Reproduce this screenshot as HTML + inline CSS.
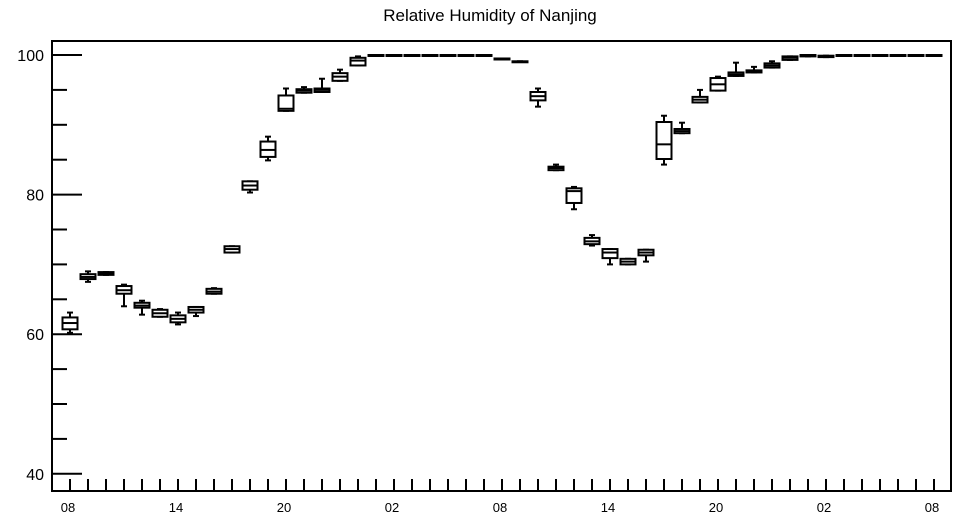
<!DOCTYPE html>
<html><head><meta charset="utf-8"><style>
body{margin:0;background:#fff;}
svg{display:block;font-family:"Liberation Sans",Arial,sans-serif;}
</style></head><body>
<svg id="chart" width="957" height="520" viewBox="0 0 957 520">
<text x="490" y="21" text-anchor="middle" font-size="17">Relative Humidity of Nanjing</text>
<rect x="52" y="41" width="899" height="450" fill="none" stroke="#000" stroke-width="2"/>
<g id="axes"></g>
<g id="boxes"></g>
</svg>
<script>
const hours = ["08","09","10","11","12","13","14","15","16","17","18","19","20","21","22","23","00","01","02","03","04","05","06","07","08","09","10","11","12","13","14","15","16","17","18","19","20","21","22","23","00","01","02","03","04","05","06","07","08"];
const whiskerLow = [60.2,67.5,68.5,64.0,62.8,62.5,61.4,62.6,65.8,71.7,80.3,84.9,92.0,94.6,94.7,96.3,98.5,99.9,99.9,99.9,99.9,99.9,99.9,99.9,99.4,99.0,92.6,83.5,77.9,72.7,70.0,70.0,70.4,84.3,88.8,93.2,94.9,97.0,97.5,98.2,99.3,99.8,99.7,99.9,99.9,99.9,99.9,99.9,99.9];
const q1 = [60.7,67.9,68.5,65.8,63.8,62.5,61.7,63.1,65.8,71.7,80.7,85.4,92.0,94.6,94.7,96.3,98.5,99.9,99.9,99.9,99.9,99.9,99.9,99.9,99.4,99.0,93.5,83.5,78.8,72.9,70.9,70.0,71.3,85.1,88.8,93.2,94.9,97.0,97.5,98.2,99.3,99.8,99.7,99.9,99.9,99.9,99.9,99.9,99.9];
const medians = [61.6,68.2,68.7,66.3,64.1,63.0,62.2,63.5,66.1,72.2,81.3,86.4,92.3,94.9,95.0,96.9,99.2,100,100,100,100,100,100,99.95,99.4,99.0,94.1,83.8,80.5,73.3,71.7,70.4,71.7,87.2,89.1,93.6,95.8,97.2,97.7,98.5,99.6,99.9,99.8,100,100,100,100,100,100];
const q3 = [62.4,68.6,68.9,66.9,64.5,63.5,62.7,63.9,66.5,72.6,81.9,87.6,94.2,95.1,95.2,97.4,99.6,100,100,100,100,100,100,100,99.5,99.1,94.7,84.0,80.9,73.8,72.2,70.8,72.1,90.4,89.4,94.0,96.7,97.5,97.8,98.8,99.8,100,99.9,100,100,100,100,100,100];
const whiskerHigh = [63.1,69.0,68.9,67.1,64.8,63.6,63.1,63.9,66.6,72.6,81.9,88.3,95.2,95.4,96.6,97.9,99.8,100,100,100,100,100,100,100,99.5,99.1,95.2,84.3,81.1,74.2,72.2,70.8,72.1,91.3,90.3,95.0,96.9,98.9,98.3,99.1,99.8,100,99.9,100,100,100,100,100,100];
const yTicks = [40,60,80,100];
const xLabels = ["08","14","20","02","08","14","20","02","08"];

const NS="http://www.w3.org/2000/svg";
const X0=70, DX=18, Y100=55, PXU=6.98;
function xPos(i){return X0+DX*i;}
function yPos(v){return Y100+(100-v)*PXU;}
function mk(tag,attrs,parent){const e=document.createElementNS(NS,tag);for(const k in attrs)e.setAttribute(k,attrs[k]);parent.appendChild(e);return e;}
const axes=document.getElementById('axes');
for(let v=40;v<=100;v+=5){
  const major=yTicks.includes(v);
  const t=mk('line',{x1:52,x2:major?82:67,y1:yPos(v),y2:yPos(v),stroke:'#000','stroke-width':2},axes);
  
  
}
yTicks.forEach(v=>{
  const t=mk('text',{x:44,y:yPos(v)+6,'text-anchor':'end','font-size':16},axes);
  t.textContent=v;
  
  
});
hours.forEach((h,i)=>{
  const t=mk('line',{x1:xPos(i),x2:xPos(i),y1:491,y2:479,stroke:'#000','stroke-width':2},axes);
  
  
});
xLabels.forEach((l,k)=>{
  const t=mk('text',{x:xPos(k*6)-2,y:512,'text-anchor':'middle','font-size':13},axes);
  t.textContent=l;
  
  
});
const boxes=document.getElementById('boxes');
hours.forEach((h,i)=>{
  const g=mk('g',{},boxes);
  
  
  const x=xPos(i);
  const st={stroke:'#000','stroke-width':2,fill:'none'};
  mk('line',Object.assign({x1:x,x2:x,y1:yPos(whiskerHigh[i]),y2:yPos(q3[i])},st),g);
  mk('line',Object.assign({x1:x,x2:x,y1:yPos(q1[i]),y2:yPos(whiskerLow[i])},st),g);
  mk('line',Object.assign({x1:x-3,x2:x+3,y1:yPos(whiskerHigh[i]),y2:yPos(whiskerHigh[i])},st),g);
  mk('line',Object.assign({x1:x-3,x2:x+3,y1:yPos(whiskerLow[i]),y2:yPos(whiskerLow[i])},st),g);
  const top=yPos(q3[i]),bot=yPos(q1[i]);
  mk('rect',{x:x-7.5,y:top,width:15,height:Math.max(bot-top,1),fill:'#fff',stroke:'#000','stroke-width':2},g);
  mk('line',Object.assign({x1:x-7.5,x2:x+7.5,y1:yPos(medians[i]),y2:yPos(medians[i])},st),g);
});
</script>
</body></html>
